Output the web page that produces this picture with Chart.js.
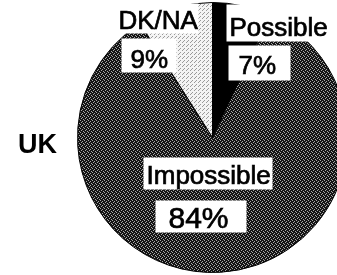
<!DOCTYPE html>
<html>
<head>
<meta charset="utf-8">
<script src="https://cdn.jsdelivr.net/npm/chart.js@4"></script>
<style>
  html, body { margin: 0; padding: 0; background: #fff; overflow: hidden; }
  #wrap { position: relative; width: 350px; height: 275px; }
  #countryLabel {
    position: absolute; left: 18px; top: 129px;
    font: bold 27px "Liberation Sans", Arial, sans-serif; color: #000;
  }
</style>
</head>
<body>
<div id="wrap">
  <canvas id="pieChart" width="350" height="275"></canvas>
  <div id="countryLabel">UK</div>
</div>
<script>
// slices, clockwise from 12 o'clock
const categories = ["Possible", "Impossible", "DK/NA"];
const shares = [7, 84, 9];

// white label boxes relative to the pie centre:
// [left, top, width, height, textLeft, baseline, fontSize]
const nameBoxes = [
  [14, -133, 104, 37, 17, -102, 26],
  [-69, 20, 129, 32, -66, 46, 26],
  [-97, -134, 83, 30, -94, -109, 26]
];
const pctBoxes = [
  [16, -92, 62, 35, 26, -64, 26],
  [-57, 63, 91, 32, -44, 90, 30],
  [-91, -99, 55, 34, -82, -70, 26]
];

// halftone-looking fills like the printed original
function dotPattern(base, dot, cells) {
  const c = document.createElement("canvas");
  c.width = 4;
  c.height = 4;
  const g = c.getContext("2d");
  g.fillStyle = base;
  g.fillRect(0, 0, 4, 4);
  g.fillStyle = dot;
  cells.forEach(p => g.fillRect(p[0], p[1], 1, 1));
  return g.createPattern(c, "repeat");
}

const darkFill = dotPattern("#141414", "#a8a8a8", [[0, 0], [2, 1], [1, 2], [3, 3]]);
const lightFill = dotPattern("#f4f4f4", "#9a9a9a", [[0, 0], [2, 2], [3, 1]]);
const sliceColors = ["#000000", darkFill, lightFill];

const boxLabels = {
  id: "boxLabels",
  afterDatasetsDraw(chart) {
    const ctx = chart.ctx;
    const arc = chart.getDatasetMeta(0).data[0];
    const cx = arc.x;
    const cy = arc.y;

    ctx.save();
    ctx.textBaseline = "alphabetic";
    ctx.textAlign = "left";
    ctx.lineWidth = 0.7;
    ctx.strokeStyle = "#000000";

    categories.forEach((cat, i) => {
      [[nameBoxes[i], cat], [pctBoxes[i], shares[i] + "%"]].forEach(([b, text]) => {
        ctx.fillStyle = "#ffffff";
        ctx.fillRect(cx + b[0], cy + b[1], b[2], b[3]);
        ctx.fillStyle = "#000000";
        ctx.font = b[6] + 'px "Liberation Sans", Arial, sans-serif';
        ctx.fillText(text, cx + b[4], cy + b[5]);
        ctx.strokeText(text, cx + b[4], cy + b[5]);
      });
    });
    ctx.restore();
  }
};

new Chart(document.getElementById("pieChart"), {
  type: "pie",
  data: {
    labels: categories,
    datasets: [{
      data: shares,
      backgroundColor: sliceColors,
      borderColor: "#000000",
      borderWidth: 1
    }]
  },
  options: {
    responsive: false,
    animation: false,
    layout: { padding: { left: 77, right: 2, top: 2, bottom: 2 } },
    plugins: {
      legend: { display: false },
      tooltip: { enabled: false }
    }
  },
  plugins: [boxLabels]
});
</script>
</body>
</html>
